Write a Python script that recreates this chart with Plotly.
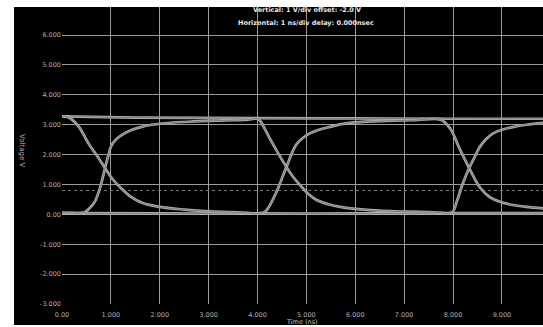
import plotly.graph_objects as go

# ---- data (time in ns, voltage in V) ----
x_tick_vals = [0, 1, 2, 3, 4, 5, 6, 7, 8, 9]
x_tick_text = ["0.00", "1.000", "2.000", "3.000", "4.000", "5.000", "6.000", "7.000", "8.000", "9.000"]
y_tick_vals = [-3, -2, -1, 0, 1, 2, 3, 4, 5, 6]
y_tick_text = ["-3.000", "-2.000", "-1.000", "0.00", "1.000", "2.000", "3.000", "4.000", "5.000", "6.000"]

# waveform 1: high -> fall -> low -> rise -> high -> fall -> low
w1_t = [0.00, 0.10, 0.20, 0.35, 0.55, 0.72, 0.88, 1.05, 1.22, 1.42, 1.65, 2.00, 2.50, 3.00, 3.60, 4.13,
        4.25, 4.39, 4.59, 4.80, 5.07, 5.48, 5.89, 6.50, 7.20, 7.76, 7.95, 8.12, 8.33, 8.55, 8.75, 8.96,
        9.20, 9.50, 9.84]
w1_v = [3.28, 3.27, 3.18, 2.92, 2.35, 1.95, 1.55, 1.15, 0.86, 0.58, 0.38, 0.25, 0.16, 0.10, 0.07, 0.06,
        0.30, 0.76, 1.58, 2.35, 2.71, 2.93, 3.06, 3.12, 3.15, 3.16, 2.85, 2.25, 1.55, 0.90, 0.58, 0.42,
        0.32, 0.25, 0.20]

# waveform 2: low -> rise -> high -> fall -> low -> rise -> high
w2_t = [0.00, 0.20, 0.45, 0.56, 0.67, 0.78, 0.88, 0.95, 1.01, 1.10, 1.22, 1.42, 1.63, 2.04, 2.60, 3.20,
        3.80, 4.01, 4.12, 4.25, 4.42, 4.59, 4.73, 4.87, 5.03, 5.21, 5.45, 5.69, 6.30, 7.00, 7.60, 7.98,
        8.08, 8.20, 8.33, 8.45, 8.55, 8.68, 8.82, 9.00, 9.22, 9.50, 9.84]
w2_v = [0.06, 0.05, 0.06, 0.20, 0.42, 0.90, 1.55, 1.98, 2.30, 2.50, 2.65, 2.82, 2.93, 3.04, 3.10, 3.14,
        3.17, 3.20, 2.95, 2.54, 2.05, 1.59, 1.25, 0.98, 0.70, 0.48, 0.34, 0.25, 0.14, 0.09, 0.07, 0.07,
        0.45, 1.03, 1.55, 1.95, 2.26, 2.52, 2.71, 2.83, 2.92, 3.00, 3.06]

# steady levels and threshold line
high_t = [0.00, 1.50, 4.00, 6.00, 8.00, 9.84]
high_v = [3.28, 3.24, 3.22, 3.21, 3.20, 3.20]
low_t = [0.00, 2.00, 4.00, 6.00, 8.00, 9.84]
low_v = [0.04, 0.03, 0.03, 0.03, 0.04, 0.04]
thr_t = [0.00, 9.84]
thr_v = [0.80, 0.80]

title_lines = ["Vertical: 1 V/div offset: -2.0 V", "Horizontal: 1 ns/div delay: 0.000nsec"]
x_title = "Time (ns)"
y_title = "Voltage V"

fig = go.Figure()

fig.add_trace(go.Scatter(x=thr_t, y=thr_v, mode="lines",
                         line=dict(color="#7a7a7a", width=1, dash="dot"), hoverinfo="skip"))

for tt, vv in [(high_t, high_v), (low_t, low_v), (w1_t, w1_v), (w2_t, w2_v)]:
    fig.add_trace(go.Scatter(x=tt, y=vv, mode="lines", line_shape="spline",
                             line=dict(color="#b0b0b0", width=2.7), hoverinfo="skip"))
    fig.add_trace(go.Scatter(x=tt, y=vv, mode="lines", line_shape="spline",
                             line=dict(color="#6e6e6e", width=0.8), hoverinfo="skip"))

W, H = 543, 327
ML, MR, MT, MB = 62, 0, 7, 23
pw, ph = W - ML - MR, H - MT - MB

fig.add_shape(type="rect", xref="paper", yref="paper", layer="below",
              x0=(14 - ML) / pw, x1=1.0, y0=-(325 - (H - MB)) / ph, y1=1.0,
              fillcolor="black", line=dict(width=0))

tick_font = dict(family="DejaVu Sans", size=6.5, color="#b0b0b0")
title_font = dict(family="DejaVu Sans", size=6.5, color="#e6e6e6")

fig.update_layout(
    width=W, height=H,
    margin=dict(l=ML, r=MR, t=MT, b=MB, pad=0),
    paper_bgcolor="white", plot_bgcolor="black",
    showlegend=False,
    xaxis=dict(range=[0, 9.84], tickvals=x_tick_vals, ticktext=x_tick_text,
               showgrid=True, gridcolor="#9c9c9c", gridwidth=1, zeroline=False,
               showline=False, ticks="", tickfont=tick_font, ticklabelstandoff=5,
               fixedrange=True),
    yaxis=dict(range=[-3, 6.94], tickvals=y_tick_vals, ticktext=y_tick_text,
               showgrid=True, gridcolor="#9c9c9c", gridwidth=1, zeroline=False,
               showline=False, ticks="", tickfont=tick_font, fixedrange=True),
    annotations=[
        dict(text="<b>" + title_lines[0] + "</b>", xref="paper", yref="paper",
             x=(307 - ML) / pw, y=1 - (10 - MT) / ph,
             showarrow=False, font=title_font, xanchor="center", yanchor="middle"),
        dict(text="<b>" + title_lines[1] + "</b>", xref="paper", yref="paper",
             x=(306 - ML) / pw, y=1 - (23 - MT) / ph,
             showarrow=False, font=title_font, xanchor="center", yanchor="middle"),
        dict(text=x_title, xref="paper", yref="paper", x=(302 - ML) / pw, y=-(322 - (H - MB)) / ph,
             showarrow=False, font=dict(family="DejaVu Sans", size=6.5, color="#c8c8c8"),
             xanchor="center", yanchor="middle"),
        dict(text=y_title, xref="paper", yref="paper", x=(22 - ML) / pw, y=1 - (150 - MT) / ph,
             showarrow=False, textangle=90, font=dict(family="DejaVu Sans", size=7, color="#b0b0b0"),
             xanchor="center", yanchor="middle"),
    ],
)

fig.write_html("out.html", config={"displayModeBar": False},
               post_script="document.body.style.margin='0px';")
